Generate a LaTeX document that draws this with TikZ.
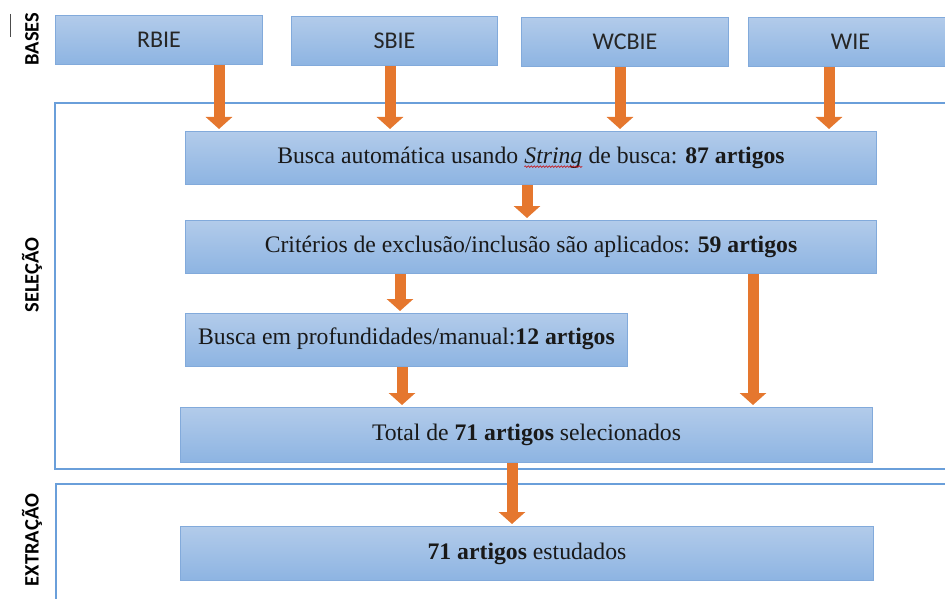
\documentclass[tikz,border=0pt]{standalone}
\usepackage{fontspec}
\setmainfont{Liberation Serif}
\newfontfamily\lblfont{Carlito}
\usetikzlibrary{arrows.meta,decorations.pathmorphing}
\definecolor{boxtop}{HTML}{B2CBEA}
\definecolor{boxbot}{HTML}{8DB4E2}
\definecolor{boxline}{HTML}{82AADB}
\definecolor{frameline}{HTML}{6A9FDA}
\definecolor{arrorange}{HTML}{E5772E}
\tikzset{
  box/.style={draw=boxline, line width=1pt, top color=boxtop, bottom color=boxbot,
    inner sep=0pt, anchor=north west},
  basebox/.style={box, font=\lblfont\fontsize{24}{28}\selectfont, text=black!85},
  mainbox/.style={box, font=\fontsize{23.7}{28}\selectfont, text=black!90},
  frame/.style={draw=frameline, line width=1.8pt},
  sidelabel/.style={rotate=90, font=\lblfont\bfseries\fontsize{20.5}{24}\selectfont},
  arr/.style={draw=arrorange, line width=11pt,
    -{Triangle[width=26pt,length=12pt]}, shorten >=2pt},
  spell/.style={draw=red!80!black, line width=0.6pt, decorate,
    decoration={snake, amplitude=0.8pt, segment length=3pt}},
  wordnode/.style={inner sep=0pt, outer sep=0pt, minimum width=0pt, minimum height=0pt,
    anchor=center, draw=none, fill=none}
}
\newcommand{\spellword}[1]{\begin{tikzpicture}[baseline=(w.base)]
  \node[wordnode] (w) {#1};
  \draw[spell] ([yshift=-3pt]w.base west) -- ([yshift=-3pt]w.base east);
\end{tikzpicture}}
\begin{document}
\begin{tikzpicture}[x=1pt,y=-1pt]
\useasboundingbox (0,0) rectangle (945,599);
\begin{scope}
\clip (0,0) rectangle (945,599);
% frames
\draw[frame] (960,103) -- (55,103) -- (55,469) -- (960,469);
\draw[frame] (960,484) -- (56,484) -- (56,610);
% small dash
\draw[line width=1pt, black!70] (10,14) -- (10,37);
% base boxes
\node[basebox, minimum width=207pt, minimum height=49pt] (rbie) at (55,15) {RBIE};
\node[basebox, minimum width=206pt, minimum height=49pt] (sbie) at (291,16) {SBIE};
\node[basebox, minimum width=207pt, minimum height=49pt] (wcbie) at (521,17) {WCBIE};
\node[basebox, minimum width=204pt, minimum height=49pt] (wie) at (748,17) {WIE};
% main boxes
\node[mainbox, minimum width=691pt, minimum height=53pt] (b1) at (185,131)
  {Busca automática usando \spellword{\textit{String}} de busca: \textbf{87 artigos}};
\node[mainbox, minimum width=691pt, minimum height=53pt] (b2) at (185,220)
  {Critérios de exclusão/inclusão são aplicados: \textbf{59 artigos}};
\node[mainbox, minimum width=442pt, minimum height=53pt] (b3) at (185,313)
  {\raisebox{8pt}{Busca em profundidades/manual:\textbf{12 artigos}}};
\node[mainbox, minimum width=692pt, minimum height=55pt] (b4) at (180,407)
  {Total de \textbf{71 artigos} selecionados};
\node[mainbox, minimum width=693pt, minimum height=54pt] (b5) at (180,526)
  {\textbf{71 artigos} estudados};
% side labels
\node[sidelabel] (lbases) at (32,39) {BASES};
\node[sidelabel] (lsel) at (32,275) {SELEÇÃO};
\node[sidelabel] (lext) at (32,540) {EXTRAÇÃO};
% arrows
\draw[arr] (219,0 |- rbie.south) -- (219,0 |- b1.north);
\draw[arr] (390,0 |- sbie.south) -- (390,0 |- b1.north);
\draw[arr] (620,0 |- wcbie.south) -- (620,0 |- b1.north);
\draw[arr] (829,0 |- wie.south) -- (829,0 |- b1.north);
\draw[arr] (527,0 |- b1.south) -- (527,0 |- b2.north);
\draw[arr] (400,0 |- b2.south) -- (400,0 |- b3.north);
\draw[arr] (753,0 |- b2.south) -- (753,0 |- b4.north);
\draw[arr] (402,0 |- b3.south) -- (402,0 |- b4.north);
\draw[arr] (512,0 |- b4.south) -- (512,0 |- b5.north);
\end{scope}
\end{tikzpicture}
\end{document}
